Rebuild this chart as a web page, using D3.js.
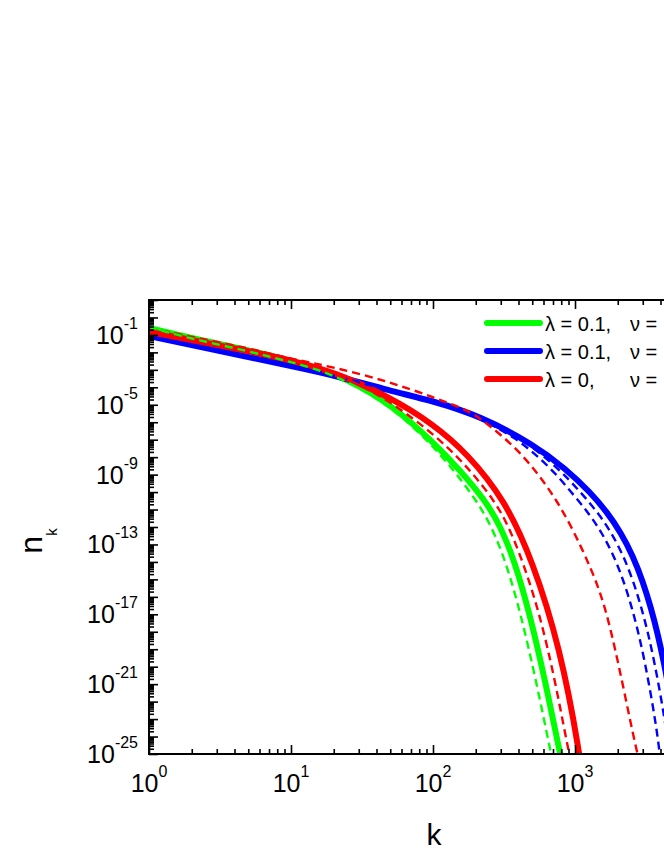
<!DOCTYPE html>
<html>
<head>
<meta charset="utf-8">
<script src="https://cdn.jsdelivr.net/npm/d3@7"></script>
<style>
  body { margin: 0; background: #fff; overflow: hidden; }
  text { font-family: "Liberation Sans", Arial, sans-serif; fill: #000; }
</style>
</head>
<body>
<div id="chart"></div>
<script>
// values (k, n_k)
var kGreen  = [1, 2, 5, 10, 20, 50, 100, 155, 232, 296, 378, 482, 615, 784, 922];
var nGreen  = [2.5e-1, 6.6e-2, 1.38e-2, 3.2e-3, 7.6e-4, 1.26e-5, 7.4e-8, 1.82e-9, 3.5e-11, 1.29e-12, 9.8e-15, 9.1e-18, 1.74e-21, 1e-25, 2.5e-28];
var kBlue   = [1, 2, 5, 10, 20, 50, 100, 214, 506, 865, 1276, 1680, 2108, 2560, 3013, 3430, 3844, 4236, 4667, 5058, 5395, 5700];
var nBlue   = [8.7e-2, 2.6e-2, 5.5e-3, 1.66e-3, 5.0e-4, 6.2e-5, 1.66e-5, 2.3e-6, 5.6e-8, 2.1e-9, 1e-10, 7.2e-12, 4.6e-13, 2.2e-14, 7.1e-16, 2.3e-17, 6.5e-19, 1.62e-20, 2.4e-22, 4.6e-24, 1e-25, 1e-27];
var kRed    = [1, 2, 5, 10, 20, 50, 100, 173, 321, 500, 784, 1084, 1200];
var nRed    = [1.48e-1, 5.1e-2, 1.2e-2, 3.6e-3, 7.6e-4, 2.75e-5, 7.9e-7, 1.74e-8, 3.5e-11, 1.3e-14, 1.35e-19, 1e-25, 1e-28];

var kGreenDash = [1, 2, 5, 10, 20, 50, 100, 143, 201, 256, 327, 417, 531, 678, 790];
var nGreenDash = [2.8e-1, 5.9e-2, 1.2e-2, 2.8e-3, 5.8e-4, 9.8e-6, 4.4e-8, 1.41e-9, 3.5e-11, 1.29e-12, 9.8e-15, 9.1e-18, 1.74e-21, 1e-25, 2.5e-28];
var kRedDash1  = [1, 2, 5, 10, 20, 50, 118, 182, 269, 338, 431, 567, 723, 907, 1066];
var nRedDash1  = [1.66e-1, 5.6e-2, 1.26e-2, 3.2e-3, 7.6e-4, 1.86e-5, 7.4e-8, 1.82e-9, 3.5e-11, 1.29e-12, 9.8e-15, 9.1e-18, 1.74e-21, 1e-25, 2.5e-28];
var kRedDash2  = [1, 2, 5, 10, 20, 50, 100, 173, 214, 410, 759, 1138, 1500, 1795, 2213, 2733, 3200];
var nRedDash2  = [2.5e-1, 7.6e-2, 1.78e-2, 4.2e-3, 1.45e-3, 2.0e-4, 2.75e-5, 5.0e-6, 1.74e-6, 2.6e-8, 3.5e-11, 4.8e-14, 2.45e-16, 1.26e-18, 4.6e-22, 1e-25, 1e-27];
var kBlueDash1 = [1, 2, 5, 10, 20, 50, 100, 182, 378, 689, 938, 1234, 1549, 1881, 2214, 2520, 2824, 3112, 3429, 3716, 3964, 4200];
var nBlueDash1 = [8.7e-2, 2.6e-2, 5.5e-3, 1.66e-3, 5.0e-4, 6.2e-5, 1.66e-5, 2.95e-6, 1.62e-7, 2.1e-9, 1e-10, 7.2e-12, 4.6e-13, 2.2e-14, 7.1e-16, 2.3e-17, 6.5e-19, 1.62e-20, 2.4e-22, 4.6e-24, 1e-25, 1e-27];
var kBlueDash2 = [1, 2, 5, 10, 20, 50, 100, 198, 444, 772, 1094, 1441, 1808, 2196, 2584, 2942, 3297, 3633, 4003, 4338, 4627, 4900];
var nBlueDash2 = [8.7e-2, 2.6e-2, 5.5e-3, 1.66e-3, 5.0e-4, 6.2e-5, 1.66e-5, 2.6e-6, 9.5e-8, 2.1e-9, 1e-10, 7.2e-12, 4.6e-13, 2.2e-14, 7.1e-16, 2.3e-17, 6.5e-19, 1.62e-20, 2.4e-22, 4.6e-24, 1e-25, 1e-27];

var xMajorExps = [0, 1, 2, 3, 4];
var xLabelExps = [0, 1, 2, 3];
var yLabelExps = [-1, -5, -9, -13, -17, -21, -25];
var legendLabels = ["\u03bb = 0.1,", "\u03bb = 0.1,", "\u03bb = 0,"];
var legendNu = ["\u03bd =", "\u03bd =", "\u03bd ="];
var legendColors = ["#00ff00", "#0000ff", "#ff0000"];

var svgWidth = 740, svgHeight = 860;
var margin = {top: 300, left: 149};
var width = 568, height = 454;

var svg = d3.select("#chart").append("svg")
    .attr("width", svgWidth).attr("height", svgHeight);
var g = svg.append("g").attr("transform", `translate(${margin.left},${margin.top})`);

var x = d3.scaleLog().domain([1, 1e4]).range([0, width]);
var y = d3.scaleLog().domain([1e-25, 10]).range([height, 0]);

g.append("clipPath").attr("id", "clip")
  .append("rect").attr("width", width).attr("height", height);

var line = d3.line()
    .x(d => x(d[0])).y(d => y(d[1]))
    .curve(d3.curveBasis);
var plot = g.append("g").attr("clip-path", "url(#clip)");

function addSeries(ks, ns, color, dashed) {
  plot.append("path")
    .datum(ks.map((k, i) => [k, ns[i]]))
    .attr("d", line)
    .attr("fill", "none")
    .attr("stroke", color)
    .attr("stroke-width", dashed ? 2.4 : 6)
    .attr("stroke-dasharray", dashed ? "8,5" : null);
}
addSeries(kGreen, nGreen, "#00ff00", false);
addSeries(kBlue, nBlue, "#0000ff", false);
addSeries(kRed, nRed, "#ff0000", false);
addSeries(kBlueDash1, nBlueDash1, "#0000ff", true);
addSeries(kBlueDash2, nBlueDash2, "#0000ff", true);
addSeries(kRedDash2, nRedDash2, "#ff0000", true);
addSeries(kRedDash1, nRedDash1, "#ff0000", true);
addSeries(kGreenDash, nGreenDash, "#00ff00", true);

// ticks
var xMajor = xMajorExps.map(e => Math.pow(10, e));
var xMinor = [];
xMajor.slice(0, -1).forEach(v => { for (var m = 2; m < 10; m++) xMinor.push(v * m); });
var yMajor = d3.range(-25, 2).map(e => Math.pow(10, e));
var yMinor = [];
yMajor.slice(0, -1).forEach(v => { for (var m = 2; m < 10; m++) yMinor.push(v * m); });

function drawAxis(axis) {
  return function(sel) {
    sel.call(axis);
    sel.select(".domain").remove();
    sel.selectAll(".tick line").attr("stroke", "#000").attr("stroke-width", 1.6);
    sel.selectAll(".tick text").remove();
  };
}
g.append("g").attr("transform", `translate(0,${height})`)
  .call(drawAxis(d3.axisBottom(x).tickValues(xMajor).tickSize(-9)));
g.append("g").attr("transform", `translate(0,${height})`)
  .call(drawAxis(d3.axisBottom(x).tickValues(xMinor).tickSize(-5)));
g.append("g").call(drawAxis(d3.axisTop(x).tickValues(xMajor).tickSize(-9)));
g.append("g").call(drawAxis(d3.axisTop(x).tickValues(xMinor).tickSize(-5)));
g.append("g").call(drawAxis(d3.axisLeft(y).tickValues(yMajor).tickSize(-9)));
g.append("g").call(drawAxis(d3.axisLeft(y).tickValues(yMinor).tickSize(-5)));
g.append("g").attr("transform", `translate(${width},0)`)
  .call(drawAxis(d3.axisRight(y).tickValues(yMajor).tickSize(-9)));

g.append("rect").attr("width", width).attr("height", height)
  .attr("fill", "none").attr("stroke", "#000").attr("stroke-width", 2);

// tick labels
xLabelExps.forEach(function(e) {
  var t = g.append("text")
    .attr("x", x(Math.pow(10, e))).attr("y", height + 38)
    .attr("text-anchor", "middle").attr("font-size", 25);
  t.append("tspan").text("10");
  t.append("tspan").attr("font-size", 16).attr("dy", -15).text(e);
});
yLabelExps.forEach(function(e) {
  var t = g.append("text")
    .attr("x", -11).attr("y", y(Math.pow(10, e)) + 9)
    .attr("text-anchor", "end").attr("font-size", 25);
  t.append("tspan").text("10");
  t.append("tspan").attr("font-size", 16).attr("dy", -15).text(e);
});

// axis titles
svg.append("text").attr("x", 434).attr("y", 845)
  .attr("text-anchor", "middle").attr("font-size", 30).text("k");
var yt = svg.append("text")
  .attr("transform", "translate(42,541) rotate(-90)")
  .attr("text-anchor", "middle").attr("font-size", 32);
yt.append("tspan").text("n");
yt.append("tspan").attr("font-size", 15).attr("dy", 15).text("k");

// legend
legendLabels.forEach(function(lab, i) {
  var ly = 323 + i * 28;
  svg.append("line").attr("x1", 487).attr("x2", 540).attr("y1", ly).attr("y2", ly)
    .attr("stroke", legendColors[i]).attr("stroke-width", 6).attr("stroke-linecap", "round");
  svg.append("text").attr("x", 545).attr("y", ly + 7.5).attr("font-size", 20).text(lab);
  svg.append("text").attr("x", 630).attr("y", ly + 7.5).attr("font-size", 20).text(legendNu[i]);
});
</script>
</body>
</html>
